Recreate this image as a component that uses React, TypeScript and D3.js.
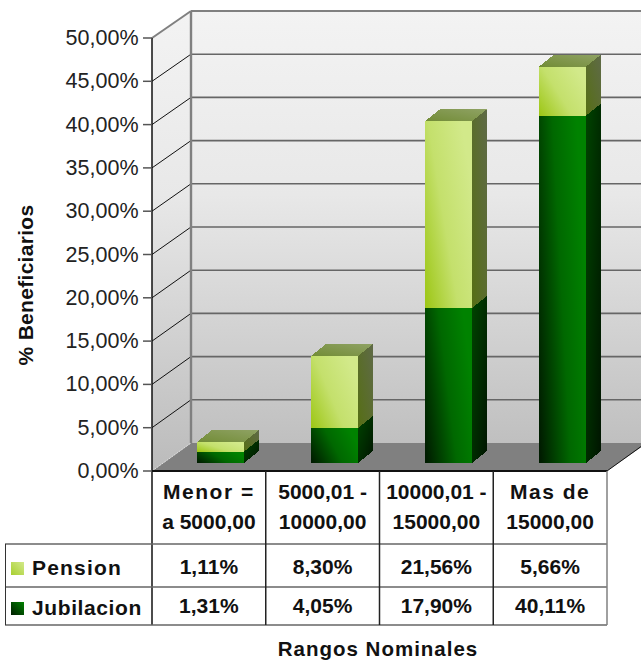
import React from "react";
import * as d3 from "d3";

const categories = [["Menor =", "a 5000,00"], ["5000,01 -", "10000,00"], ["10000,01 -", "15000,00"], ["Mas de", "15000,00"]];
const pension = [1.11, 8.3, 21.56, 5.66];
const jubilacion = [1.31, 4.05, 17.9, 40.11];
const pensionLabels = ["1,11%", "8,30%", "21,56%", "5,66%"];
const jubilacionLabels = ["1,31%", "4,05%", "17,90%", "40,11%"];
const ticks = [0, 5, 10, 15, 20, 25, 30, 35, 40, 45, 50];
const tickFormat = (v: number) => v.toFixed(2).replace(".", ",") + "%";

const W = 641, H = 661;
const x0 = 152, x1 = 607, yFront0 = 471, yFront50 = 38;
const depthX = 39, depthY = 28;
const barW = 47, barDX = 15, barDY = 12, barBase = 463, barShift = 12;
const font = "'Liberation Sans', Arial, sans-serif";

const yFront = d3.scaleLinear().domain([0, 50]).range([yFront0, yFront50]);
const yBack = d3.scaleLinear().domain([0, 50]).range([yFront0 - depthY, yFront50 - depthY + 1]);
const yBar = d3.scaleLinear().domain([0, 50]).range([barBase, barBase - 433]);
const xBand = d3.scaleBand<number>().domain([0, 1, 2, 3]).range([x0, x1]);

const pts = (p: number[][]) => p.map((a) => a.join(",")).join(" ");

function Bar({ i }: { i: number }) {
  const l = Math.round(xBand(i)! + xBand.bandwidth() / 2 - barW / 2 + barShift);
  const r = l + barW;
  const yB = yBar(0), yJ = yBar(jubilacion[i]), yT = yBar(jubilacion[i] + pension[i]);
  return (
    <g shapeRendering="crispEdges">
      <polygon points={pts([[r, yB], [r + barDX, yB - barDY], [r + barDX, yJ - barDY], [r, yJ]])} fill="url(#jubSide)" />
      <polygon points={pts([[r, yJ], [r + barDX, yJ - barDY], [r + barDX, yT - barDY], [r, yT]])} fill="url(#penSide)" />
      <polygon points={pts([[l, yT], [r, yT], [r + barDX, yT - barDY], [l + barDX, yT - barDY]])} fill="url(#penTop)" />
      <rect x={l} y={yJ} width={barW} height={yB - yJ} fill="url(#jubFront)" />
      <rect x={l} y={yT} width={barW} height={yJ - yT} fill="url(#penFront)" />
    </g>
  );
}

export default function App() {
  const rowY = [544, 587, 625];
  const cols = d3.range(5).map((k) => x0 + (k * (x1 - x0)) / 4);
  return (
    <svg width={W} height={H} style={{ position: "absolute", left: 0, top: 0, background: "#fff" }} fontFamily={font}>
      <defs>
        <linearGradient id="wall" gradientUnits="userSpaceOnUse" x1="0" y1="11" x2="0" y2="471">
          <stop offset="0" stopColor="#f3f3f3" />
          <stop offset="0.4" stopColor="#e8e8e8" />
          <stop offset="1" stopColor="#bbbbbb" />
        </linearGradient>
        <linearGradient id="penFront" x1="0" y1="1" x2="1" y2="0.35">
          <stop offset="0" stopColor="#9cc614" />
          <stop offset="0.5" stopColor="#c4e06c" />
          <stop offset="1" stopColor="#d2e98a" />
        </linearGradient>
        <linearGradient id="jubFront" x1="0" y1="0.9" x2="1" y2="0.5">
          <stop offset="0" stopColor="#001c00" />
          <stop offset="0.55" stopColor="#006800" />
          <stop offset="1" stopColor="#008200" />
        </linearGradient>
        <linearGradient id="penSide" x1="0" y1="1" x2="1" y2="0">
          <stop offset="0" stopColor="#566f14" />
          <stop offset="1" stopColor="#5f6a48" />
        </linearGradient>
        <linearGradient id="jubSide" x1="0" y1="0" x2="1" y2="1">
          <stop offset="0" stopColor="#004400" />
          <stop offset="1" stopColor="#001400" />
        </linearGradient>
        <linearGradient id="penTop" x1="0" y1="1" x2="1" y2="0">
          <stop offset="0" stopColor="#728c36" />
          <stop offset="1" stopColor="#8fa264" />
        </linearGradient>
        <linearGradient id="penSwatch" x1="0" y1="1" x2="1" y2="0">
          <stop offset="0" stopColor="#a8cf30" />
          <stop offset="1" stopColor="#d2e98a" />
        </linearGradient>
        <linearGradient id="jubSwatch" x1="0" y1="1" x2="1" y2="0">
          <stop offset="0" stopColor="#001c00" />
          <stop offset="1" stopColor="#008200" />
        </linearGradient>
      </defs>

      {/* walls */}
      <rect x={x0 + depthX} y={yBack(50)} width={W - x0 - depthX} height={yBack(0) - yBack(50)} fill="url(#wall)" />
      <polygon points={pts([[x0, yFront(50)], [x0 + depthX, yBack(50)], [x0 + depthX, yBack(0)], [x0, yFront(0)]])} fill="url(#wall)" />
      <polygon points={pts([[x0, yFront0], [x0 + depthX, yBack(0)], [W + 6, yBack(0)], [x1, yFront0]])} fill="#808080" />

      {/* gridlines */}
      {ticks.slice(1, 10).map((t) => (
        <g key={t}>
          <line x1={x0} y1={yFront(t)} x2={x0 + depthX} y2={yBack(t)} stroke="#111" strokeWidth={1} />
          <line x1={x0 + depthX} y1={yBack(t)} x2={W} y2={yBack(t)} stroke="#666" strokeWidth={1.6} />
        </g>
      ))}
      <line x1={x0} y1={yFront(50)} x2={x0 + depthX} y2={yBack(50)} stroke="#808080" strokeWidth={2} />
      <line x1={x0 + depthX} y1={yBack(50)} x2={W} y2={yBack(50)} stroke="#808080" strokeWidth={2} />
      <line x1={x0 + depthX} y1={yBack(50)} x2={x0 + depthX} y2={yBack(0)} stroke="#808080" strokeWidth={2.4} />
      <line x1={x0} y1={yFront0} x2={x0 + depthX} y2={yBack(0)} stroke="#ddd" strokeWidth={1} strokeDasharray="2 1" />
      <line x1={x1} y1={yFront0} x2={W} y2={yFront0 - (depthY * (W - x1)) / depthX} stroke="#111" strokeWidth={1} />

      {/* bars */}
      {categories.map((_, i) => <Bar key={i} i={i} />)}

      {/* axis */}
      <line x1={x0} y1={yFront(50)} x2={x0} y2={625} stroke="#111" strokeWidth={1.5} />
      {ticks.map((t) => (
        <g key={t}>
          <line x1={143} y1={yFront(t)} x2={x0} y2={yFront(t)} stroke="#555" strokeWidth={1.5} />
          <text x={138.5} y={yFront(t) + 7} textAnchor="end" fontSize={21.5} fill="#222">{tickFormat(t)}</text>
        </g>
      ))}
      <text transform="translate(33,285) rotate(-90)" textAnchor="middle" fontSize={21} fontWeight="bold" fill="#111" letterSpacing={0.3}>% Beneficiarios</text>

      {/* table */}
      <line x1={x0} y1={yFront0} x2={x1} y2={yFront0} stroke="#111" strokeWidth={2} />
      {rowY.map((y) => <line key={y} x1={5} y1={y} x2={x1} y2={y} stroke="#666" strokeWidth={1.5} />)}
      <line x1={5.5} y1={544} x2={5.5} y2={625} stroke="#333" strokeWidth={1} />
      {cols.slice(1).map((x, k) => (
        <line key={x} x1={x} y1={yFront0} x2={x} y2={625} stroke={k === 3 ? "#808080" : "#222"} strokeWidth={1.5} />
      ))}
      {categories.map((c, i) => {
        const cx = xBand(i)! + xBand.bandwidth() / 2;
        return (
          <g key={i} fontSize={21} fontWeight="bold" fill="#111" textAnchor="middle">
            <text x={cx} y={499} letterSpacing={i === 0 || i === 3 ? 1.5 : 0}>{c[0]}</text>
            <text x={cx} y={529}>{c[1]}</text>
            <text x={cx} y={574}>{pensionLabels[i]}</text>
            <text x={cx} y={613}>{jubilacionLabels[i]}</text>
          </g>
        );
      })}
      <rect x={11} y={562} width={13} height={13} fill="url(#penSwatch)" />
      <rect x={11} y={602} width={13} height={13} fill="url(#jubSwatch)" />
      <text x={32} y={575} fontSize={21} fontWeight="bold" fill="#111" letterSpacing={1.2}>Pension</text>
      <text x={32} y={615} fontSize={21} fontWeight="bold" fill="#111" letterSpacing={0.6}>Jubilacion</text>
      <text x={378} y={656} textAnchor="middle" fontSize={20.5} fontWeight="bold" fill="#111" letterSpacing={1}>Rangos Nominales</text>
    </svg>
  );
}
